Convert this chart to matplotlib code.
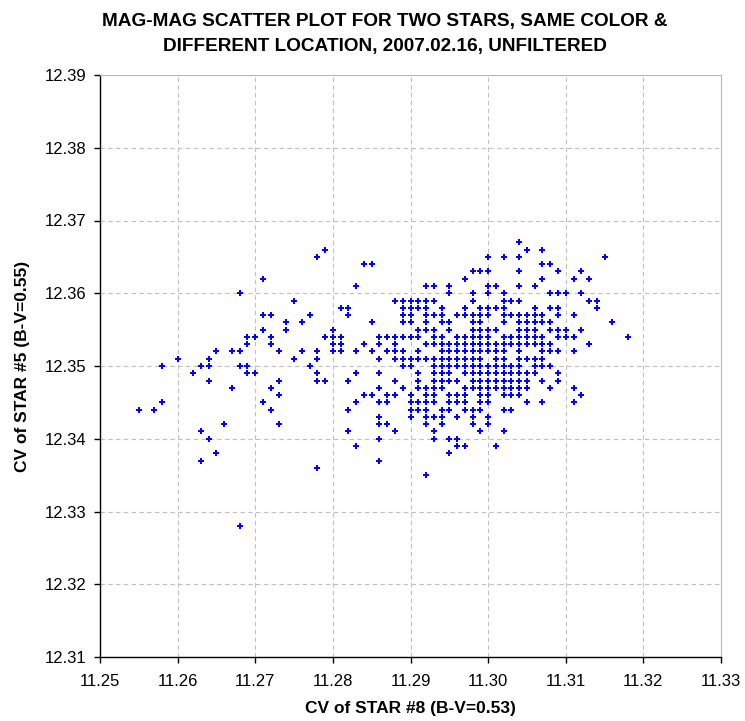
import matplotlib
matplotlib.use("Agg")
import matplotlib.pyplot as plt
from matplotlib.ticker import MultipleLocator, FormatStrFormatter

plt.rcParams['font.family'] = ['Liberation Sans', 'DejaVu Sans']

# CV of STAR #5 for each row of points (the magnitudes are quantised to 0.001)
star5_rows = [12.367, 12.366, 12.365, 12.364, 12.363, 12.362, 12.361, 12.360,
              12.359, 12.358, 12.357, 12.356, 12.355, 12.354, 12.353, 12.352,
              12.351, 12.350, 12.349, 12.348, 12.347, 12.346, 12.345, 12.344,
              12.343, 12.342, 12.341, 12.340, 12.339, 12.338, 12.337, 12.336,
              12.335, 12.328]

# CV of STAR #8 values found on each of those rows
star8_rows = [
    [11.304],
    [11.279, 11.305, 11.307],
    [11.278, 11.300, 11.302, 11.304, 11.315],
    [11.284, 11.285, 11.307, 11.308],
    [11.298, 11.299, 11.300, 11.304, 11.309, 11.312],
    [11.271, 11.297, 11.307, 11.311, 11.313],
    [11.283, 11.292, 11.293, 11.295, 11.300, 11.301, 11.304, 11.306],
    [11.268, 11.295, 11.298, 11.300, 11.302, 11.308, 11.309, 11.310, 11.312],
    [11.275, 11.288, 11.289, 11.290, 11.291, 11.292, 11.293, 11.298, 11.302,
     11.303, 11.304, 11.313, 11.314],
    [11.281, 11.282, 11.289, 11.290, 11.291, 11.292, 11.294, 11.297, 11.299,
     11.300, 11.301, 11.302, 11.306, 11.308, 11.309, 11.314],
    [11.271, 11.272, 11.277, 11.282, 11.289, 11.290, 11.292, 11.293, 11.294,
     11.296, 11.297, 11.298, 11.299, 11.300, 11.302, 11.303, 11.304, 11.305,
     11.306, 11.307, 11.309, 11.311],
    [11.274, 11.276, 11.285, 11.289, 11.290, 11.292, 11.294, 11.295, 11.298,
     11.299, 11.302, 11.304, 11.305, 11.306, 11.307, 11.308, 11.316],
    [11.271, 11.274, 11.280, 11.291, 11.292, 11.293, 11.295, 11.298, 11.299,
     11.300, 11.301, 11.304, 11.305, 11.306, 11.308, 11.309, 11.310, 11.312],
    [11.269, 11.270, 11.272, 11.279, 11.280, 11.281, 11.286, 11.287, 11.288,
     11.289, 11.290, 11.291, 11.293, 11.294, 11.296, 11.297, 11.298, 11.299,
     11.300, 11.302, 11.303, 11.304, 11.305, 11.306, 11.307, 11.309, 11.310,
     11.311, 11.318],
    [11.269, 11.272, 11.280, 11.281, 11.284, 11.286, 11.288, 11.292, 11.293,
     11.294, 11.295, 11.296, 11.297, 11.298, 11.299, 11.300, 11.301, 11.302,
     11.303, 11.304, 11.305, 11.306, 11.307, 11.308, 11.313],
    [11.265, 11.267, 11.268, 11.273, 11.276, 11.278, 11.280, 11.281, 11.283,
     11.285, 11.287, 11.288, 11.289, 11.291, 11.294, 11.295, 11.296, 11.297,
     11.298, 11.299, 11.300, 11.301, 11.302, 11.304, 11.307, 11.308, 11.309,
     11.311],
    [11.260, 11.264, 11.275, 11.278, 11.286, 11.288, 11.289, 11.290, 11.291,
     11.292, 11.293, 11.294, 11.295, 11.296, 11.297, 11.298, 11.299, 11.301,
     11.302, 11.304, 11.305, 11.306, 11.307],
    [11.258, 11.263, 11.264, 11.268, 11.269, 11.277, 11.289, 11.290, 11.293,
     11.294, 11.295, 11.296, 11.297, 11.298, 11.299, 11.300, 11.301, 11.302,
     11.303, 11.304, 11.306, 11.307, 11.308],
    [11.262, 11.269, 11.270, 11.278, 11.283, 11.286, 11.291, 11.293, 11.294,
     11.295, 11.297, 11.298, 11.299, 11.300, 11.301, 11.302, 11.303, 11.304,
     11.305, 11.306, 11.309],
    [11.264, 11.273, 11.278, 11.279, 11.282, 11.288, 11.291, 11.293, 11.294,
     11.295, 11.296, 11.298, 11.299, 11.300, 11.301, 11.302, 11.303, 11.304,
     11.305, 11.307, 11.309],
    [11.267, 11.272, 11.286, 11.289, 11.291, 11.292, 11.293, 11.294, 11.297,
     11.298, 11.299, 11.300, 11.301, 11.302, 11.303, 11.304, 11.305, 11.308,
     11.311],
    [11.273, 11.284, 11.285, 11.287, 11.288, 11.290, 11.292, 11.293, 11.295,
     11.296, 11.297, 11.299, 11.300, 11.302, 11.303, 11.304, 11.312],
    [11.258, 11.271, 11.283, 11.286, 11.287, 11.290, 11.291, 11.292, 11.293,
     11.295, 11.296, 11.297, 11.299, 11.300, 11.305, 11.307, 11.311],
    [11.255, 11.257, 11.272, 11.282, 11.290, 11.291, 11.292, 11.294, 11.295,
     11.297, 11.298, 11.299, 11.302, 11.303],
    [11.286, 11.290, 11.292, 11.293, 11.294, 11.296, 11.298, 11.300],
    [11.266, 11.273, 11.286, 11.287, 11.292, 11.294, 11.298, 11.300],
    [11.263, 11.282, 11.288, 11.293, 11.299, 11.302],
    [11.264, 11.286, 11.293, 11.295, 11.296],
    [11.283, 11.296, 11.297, 11.301],
    [11.265, 11.295],
    [11.263, 11.286],
    [11.278],
    [11.292],
    [11.268],
]

title_lines = ["MAG-MAG SCATTER PLOT FOR TWO STARS, SAME COLOR &",
               "DIFFERENT LOCATION, 2007.02.16, UNFILTERED"]
x_label = "CV of STAR #8 (B-V=0.53)"
y_label = "CV of STAR #5 (B-V=0.55)"

# flatten rows into point lists
xs, ys = [], []
for yv, row in zip(star5_rows, star8_rows):
    for xv in row:
        xs.append(xv)
        ys.append(yv)

fig = plt.figure(figsize=(7.45, 7.21), dpi=100, facecolor='white')
ax = fig.add_axes([100 / 745, 64 / 721, 621 / 745, 582 / 721])

ax.plot(xs, ys, linestyle='none', marker='P', markersize=5,
        markeredgewidth=0, color='#0000ff', zorder=3)

ax.set_xlim(11.25, 11.33)
ax.set_ylim(12.31, 12.39)
ax.xaxis.set_major_locator(MultipleLocator(0.01))
ax.yaxis.set_major_locator(MultipleLocator(0.01))
ax.xaxis.set_major_formatter(FormatStrFormatter('%.2f'))
ax.yaxis.set_major_formatter(FormatStrFormatter('%.2f'))

ax.grid(True, color='#c0c0c0', linestyle=(0, (4, 3)), linewidth=0.8)
ax.set_axisbelow(True)

for side in ['left', 'bottom']:
    ax.spines[side].set_color('black')
    ax.spines[side].set_linewidth(1.0)
for side in ['top', 'right']:
    ax.spines[side].set_color('#b8b8b8')
    ax.spines[side].set_linewidth(0.8)

ax.tick_params(axis='both', direction='out', length=4, width=1.0,
               labelsize=12, colors='black', pad=6)
ax.tick_params(axis='x', pad=8)
ax.tick_params(top=False, right=False)

ax.set_xlabel(x_label, fontsize=12.5, fontweight='bold')
ax.set_ylabel(y_label, fontsize=12.5, fontweight='bold')
ax.xaxis.set_label_coords(0.5, -0.075)
ax.yaxis.set_label_coords(-0.112, 0.5)

fig.text(385 / 745, 1 - 26 / 721, title_lines[0], ha='center', va='baseline',
         fontsize=13.7, fontweight='bold')
fig.text(385 / 745, 1 - 50.7 / 721, title_lines[1], ha='center', va='baseline',
         fontsize=13.7, fontweight='bold')

fig.savefig('out.png', dpi=100, facecolor='white')
